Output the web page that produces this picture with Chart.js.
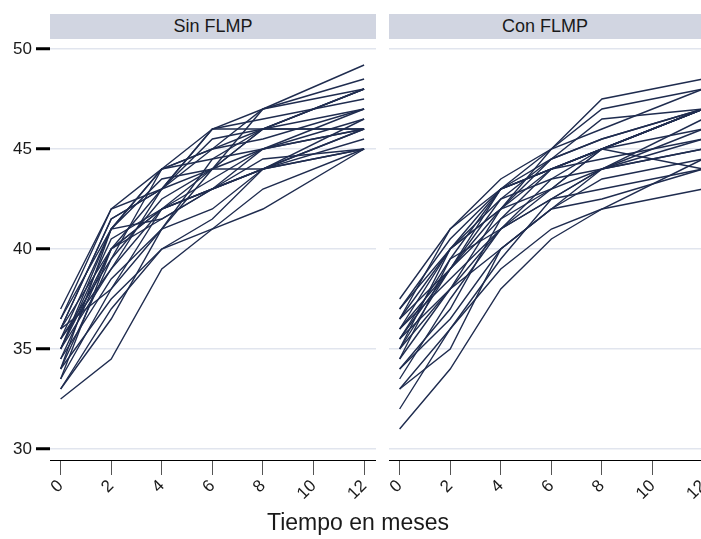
<!DOCTYPE html>
<html>
<head>
<meta charset="utf-8">
<script src="https://cdn.jsdelivr.net/npm/chart.js@4"></script>
<style>
  html, body { margin: 0; padding: 0; width: 701px; height: 539px; overflow: hidden; background: #fff; }
  body { position: relative; font-family: "Liberation Sans", Arial, sans-serif; }
  canvas { position: absolute; top: 0; }
  .strip { position: absolute; top: 14px; height: 25px; background: #d1d5e1; color: #1a1a1a;
           font-size: 18px; line-height: 25px; text-align: center; }
  #xtitle { position: absolute; left: 0; width: 716px; top: 509px; text-align: center;
            font-size: 23px; color: #1a1a1a; }
</style>
</head>
<body>
<div class="strip" style="left:50px; width:326px;">Sin FLMP</div>
<div class="strip" style="left:389px; width:312px;">Con FLMP</div>
<canvas id="sinChart" width="376" height="539" style="left:0"></canvas>
<canvas id="conChart" width="326" height="539" style="left:389px"></canvas>
<div id="xtitle">Tiempo en meses</div>
<script>
// months where each subject was measured
const meses = [0, 2, 4, 6, 8, 12];
const xTicks = [0, 2, 4, 6, 8, 10, 12];
const yTicks = [30, 35, 40, 45, 50];

// one row per subject, values at meses
const sinFlmp = [
    [37.0, 42.0, 43.0, 44.0, 46.0, 48.0],
    [36.5, 41.0, 44.0, 46.0, 47.0, 49.2],
    [36.0, 41.5, 43.0, 46.0, 46.0, 47.0],
    [36.0, 40.0, 42.0, 43.0, 45.0, 46.0],
    [35.5, 41.0, 44.0, 45.0, 47.0, 48.5],
    [35.5, 39.0, 42.0, 43.0, 44.0, 46.0],
    [35.0, 40.5, 42.0, 44.0, 46.0, 48.0],
    [35.0, 39.0, 43.0, 46.0, 46.5, 47.5],
    [35.0, 41.0, 41.5, 43.0, 44.0, 45.0],
    [34.5, 38.5, 41.0, 42.0, 44.0, 46.5],
    [34.5, 40.0, 43.0, 45.0, 46.0, 48.0],
    [34.0, 37.5, 40.0, 41.5, 44.0, 45.5],
    [34.0, 39.5, 44.0, 45.0, 45.5, 47.0],
    [33.5, 38.0, 42.0, 43.0, 44.0, 46.0],
    [33.0, 37.0, 40.0, 41.0, 43.0, 45.0],
    [33.0, 36.5, 41.0, 44.0, 47.0, 48.0],
    [32.5, 34.5, 39.0, 41.0, 42.0, 45.0],
    [36.0, 41.5, 43.0, 45.5, 46.0, 46.0],
    [35.0, 40.0, 42.0, 43.5, 45.0, 46.0],
    [34.0, 41.0, 43.5, 44.0, 44.0, 45.0],
    [36.5, 42.0, 44.0, 44.5, 45.0, 46.5],
    [35.5, 39.5, 42.5, 44.0, 45.0, 47.0],
    [33.5, 40.0, 41.5, 43.0, 44.5, 45.0],
    [36.0, 38.0, 41.0, 44.5, 46.0, 46.0]
];

const conFlmp = [
    [37.5, 41.0, 43.5, 45.0, 47.5, 48.5],
    [37.0, 40.5, 43.0, 45.0, 47.0, 48.0],
    [36.5, 40.0, 42.0, 44.0, 45.0, 47.0],
    [36.5, 39.0, 42.5, 43.5, 44.0, 45.0],
    [36.0, 40.0, 43.0, 44.5, 45.5, 47.0],
    [36.0, 38.5, 41.0, 43.0, 44.0, 46.0],
    [35.5, 39.5, 43.0, 44.0, 45.0, 47.0],
    [35.5, 38.0, 41.0, 42.5, 43.0, 44.0],
    [35.0, 39.0, 42.0, 45.0, 46.0, 48.0],
    [35.0, 38.0, 40.0, 42.0, 44.0, 46.5],
    [34.0, 37.0, 41.5, 44.0, 45.0, 47.0],
    [34.0, 36.5, 40.0, 42.0, 43.5, 44.5],
    [33.0, 36.0, 39.5, 42.5, 44.0, 45.5],
    [33.0, 35.0, 40.0, 42.0, 42.5, 44.0],
    [32.0, 36.0, 39.0, 41.0, 42.0, 43.0],
    [31.0, 34.0, 38.0, 40.5, 42.0, 44.5],
    [37.0, 40.0, 42.0, 43.0, 45.0, 47.0],
    [36.5, 41.0, 43.0, 44.0, 44.5, 45.5],
    [35.0, 40.0, 42.5, 44.5, 46.5, 47.0],
    [34.5, 39.5, 41.0, 43.5, 45.0, 46.0],
    [36.0, 39.0, 41.5, 43.0, 45.0, 47.0],
    [33.5, 37.5, 41.0, 42.5, 44.0, 45.0],
    [35.5, 39.0, 43.0, 44.0, 45.0, 44.0],
    [34.5, 38.0, 42.0, 44.5, 45.5, 47.0]
];

const LINE_COLOR = "#1f2c4f";
const GRID_COLOR = "#e1e5ee";
const FONT = "'Liberation Sans', Arial, sans-serif";

function makeDatasets(rows) {
    return rows.map(row => ({
        data: row.map((v, i) => ({ x: meses[i], y: v })),
        borderColor: LINE_COLOR,
        borderWidth: 1.4,
        pointRadius: 0,
        tension: 0,
        fill: false
    }));
}

function makeChart(canvasId, rows, showY) {
    const ctx = document.getElementById(canvasId).getContext("2d");
    return new Chart(ctx, {
        type: "line",
        data: { datasets: makeDatasets(rows) },
        options: {
            responsive: false,
            animation: false,
            devicePixelRatio: 1,
            layout: { padding: { top: 40, left: 0, right: 0, bottom: 0 } },
            plugins: {
                legend: { display: false },
                tooltip: { enabled: false }
            },
            scales: {
                x: {
                    type: "linear",
                    min: -0.42,
                    max: 12.47,
                    afterBuildTicks: s => { s.ticks = xTicks.map(v => ({ value: v })); },
                    afterFit: s => { s.height = 79; s.paddingLeft = 0; s.paddingRight = 0; },
                    ticks: {
                        minRotation: 45,
                        maxRotation: 45,
                        padding: 1,
                        color: "#1a1a1a",
                        font: { family: FONT, size: 17 }
                    },
                    grid: {
                        drawOnChartArea: false,
                        drawTicks: true,
                        tickLength: 15,
                        tickColor: "#555",
                        tickWidth: 1
                    },
                    border: { display: true, color: "#000", width: 1 }
                },
                y: {
                    min: 29.45,
                    max: 50.45,
                    afterBuildTicks: s => { s.ticks = yTicks.map(v => ({ value: v })); },
                    afterFit: s => { s.width = showY ? 50 : 0; },
                    ticks: {
                        display: showY,
                        padding: 4,
                        color: "#1a1a1a",
                        font: { family: FONT, size: 17 }
                    },
                    grid: {
                        color: GRID_COLOR,
                        lineWidth: 1.5,
                        drawTicks: showY,
                        tickLength: 14,
                        tickColor: "#000",
                        tickWidth: 3
                    },
                    border: { display: false }
                }
            }
        }
    });
}

makeChart("sinChart", sinFlmp, true);
makeChart("conChart", conFlmp, false);
</script>
</body>
</html>
